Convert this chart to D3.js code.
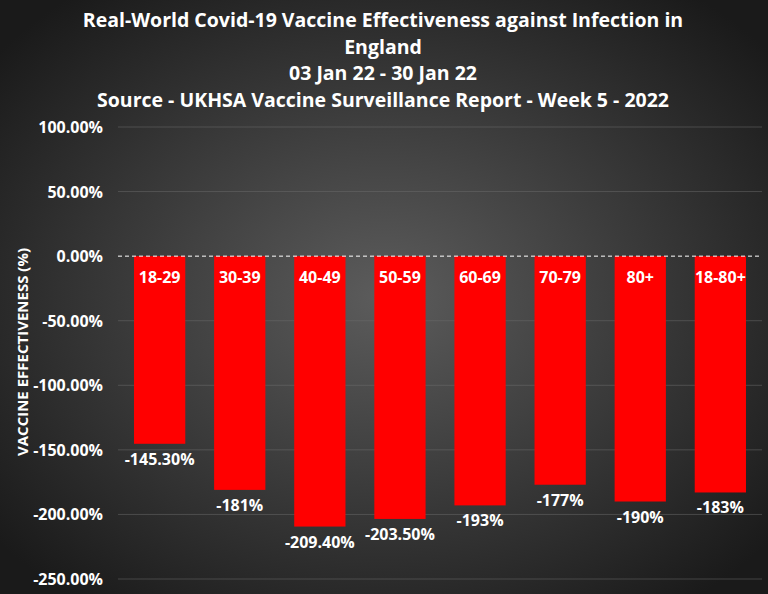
<!DOCTYPE html>
<html>
  <head>
    <script src="https://cdn.jsdelivr.net/npm/d3@7"></script>
    <style>
      body { margin: 0; background: #000; }
      text { font-family: "Open Sans", sans-serif; font-weight: bold; fill: #fff; }
    </style>
  </head>
  <body>
    <script>
      // Aldersgrupper og effektivitet (%)
      const ageGroups = ["18-29", "30-39", "40-49", "50-59", "60-69", "70-79", "80+", "18-80+"];
      const effectiveness = [-145.3, -181, -209.4, -203.5, -193, -177, -190, -183];
      const valueLabels = ["-145.30%", "-181%", "-209.40%", "-203.50%", "-193%", "-177%", "-190%", "-183%"];
      const yTicks = [100, 50, 0, -50, -100, -150, -200, -250];
      const titleLines = [
        "Real-World Covid-19 Vaccine Effectiveness against Infection in",
        "England",
        "03 Jan 22 - 30 Jan 22",
        "Source - UKHSA Vaccine Surveillance Report - Week 5 - 2022"
      ];

      const w = 768;
      const h = 594;

      const svg = d3.select("body").append("svg").attr("width", w).attr("height", h);

      // Baggrund med radial gradient
      const grad = svg.append("defs").append("radialGradient")
        .attr("id", "bg").attr("cx", "50%").attr("cy", "50%").attr("r", "65%");
      grad.append("stop").attr("offset", "0%").attr("stop-color", "#5c5c5c");
      grad.append("stop").attr("offset", "100%").attr("stop-color", "#1a1a1a");
      svg.append("rect").attr("width", w).attr("height", h).attr("fill", "url(#bg)");

      // Titel
      svg.selectAll(".title")
        .data(titleLines)
        .enter()
        .append("text")
        .attr("class", "title")
        .attr("x", 383)
        .attr("y", (d, i) => 27 + i * 26.5)
        .attr("text-anchor", "middle")
        .attr("font-size", "19.5px")
        .text(d => d);

      const x = d3.scaleBand().domain(ageGroups).range([118, 762]).paddingInner(0.36).paddingOuter(0.2);
      const y = d3.scaleLinear().domain([-250, 100]).range([579, 127]);

      // Gitterlinjer
      svg.selectAll(".grid")
        .data(yTicks.filter(d => d !== 0))
        .enter()
        .append("line")
        .attr("x1", 118)
        .attr("x2", 762)
        .attr("y1", d => y(d))
        .attr("y2", d => y(d))
        .attr("stroke", "#6e6e6e")
        .attr("stroke-opacity", 0.5)
        .attr("stroke-width", 1);

      // Y-akse etiketter
      svg.selectAll(".ytick")
        .data(yTicks)
        .enter()
        .append("text")
        .attr("class", "ytick")
        .attr("x", 103)
        .attr("y", d => y(d) + 6)
        .attr("text-anchor", "end")
        .attr("font-size", "16px")
        .text(d => d.toFixed(2) + "%");

      // Søjler
      svg.selectAll(".bar")
        .data(effectiveness)
        .enter()
        .append("rect")
        .attr("x", (d, i) => x(ageGroups[i]))
        .attr("y", y(0))
        .attr("width", x.bandwidth())
        .attr("height", d => y(d) - y(0))
        .attr("fill", "#ff0000");

      // Nul-linje (stiplet)
      svg.append("line")
        .attr("x1", 118)
        .attr("x2", 762)
        .attr("y1", y(0))
        .attr("y2", y(0))
        .attr("stroke", "#fff")
        .attr("stroke-width", 1)
        .attr("stroke-dasharray", "4,3");

      // Kategori-navne inde i søjlerne
      svg.selectAll(".cat")
        .data(ageGroups)
        .enter()
        .append("text")
        .attr("x", d => x(d) + x.bandwidth() / 2)
        .attr("y", y(0) + 27)
        .attr("text-anchor", "middle")
        .attr("font-size", "16px")
        .text(d => d);

      // Værdi-etiketter under søjlerne
      svg.selectAll(".val")
        .data(effectiveness)
        .enter()
        .append("text")
        .attr("x", (d, i) => x(ageGroups[i]) + x.bandwidth() / 2)
        .attr("y", d => y(d) + 21)
        .attr("text-anchor", "middle")
        .attr("font-size", "16px")
        .text((d, i) => valueLabels[i]);

      // Y-akse titel
      svg.append("text")
        .attr("transform", "translate(28,352) rotate(-90)")
        .attr("text-anchor", "middle")
        .attr("font-size", "15px")
        .text("VACCINE EFFECTIVENESS (%)");
    </script>
  </body>
</html>
